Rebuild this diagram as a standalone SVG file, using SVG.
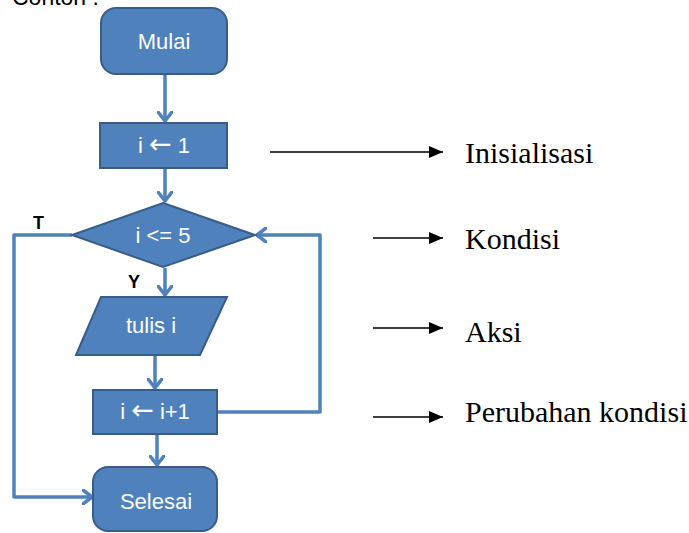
<svg xmlns="http://www.w3.org/2000/svg" width="689" height="533" viewBox="0 0 689 533">
<defs>
<style>
.node{fill:#4F81BD;stroke:#385D8A;stroke-width:2}
.nt{font-family:"Liberation Sans",Arial,sans-serif;font-size:22px;fill:#FFFFFF;text-anchor:middle}
.arr{font-family:"DejaVu Sans",sans-serif;font-size:27px}
.flow{fill:none;stroke:#4F81BD;stroke-width:3.5;stroke-linejoin:round}
.lbl{font-family:"Liberation Sans",Arial,sans-serif;font-size:18px;font-weight:bold;fill:#000}
.ann{fill:none;stroke:#000;stroke-width:1.5}
.at{font-family:"Liberation Serif","Times New Roman",serif;font-size:30px;fill:#000}
</style>
<marker id="open" viewBox="0 0 12 16" refX="10" refY="8" markerWidth="12" markerHeight="16" markerUnits="userSpaceOnUse" orient="auto">
<path d="M1,1 L10,8 L1,15" fill="none" stroke="#4F81BD" stroke-width="3.5" stroke-linecap="round" stroke-linejoin="round"/>
</marker>
<marker id="solid" viewBox="0 0 14 12" refX="14" refY="6" markerWidth="14" markerHeight="12" markerUnits="userSpaceOnUse" orient="auto">
<path d="M0,0 L14,6 L0,12 Z" fill="#000"/>
</marker>
</defs>
<rect width="689" height="533" fill="#FFFFFF"/>
<text x="12" y="5" font-family="Liberation Sans,Arial,sans-serif" font-size="23" fill="#000">Contoh :</text>

<g id="connectors">
<path class="flow" d="M165,75 L165,121" marker-end="url(#open)"/>
<path class="flow" d="M165,169 L165,201" marker-end="url(#open)"/>
<path class="flow" d="M165,268 L165,295" marker-end="url(#open)"/>
<path class="flow" d="M155,356 L155,388" marker-end="url(#open)"/>
<path class="flow" d="M157,435 L157,465" marker-end="url(#open)"/>
<path class="flow" d="M72,235 L14,235 L14,497 L92,497" marker-end="url(#open)"/>
<path class="flow" d="M218,412 L320,412 L320,235 L257,235" marker-end="url(#open)"/>
<text class="lbl" x="33" y="229">T</text>
<text class="lbl" x="128" y="288">Y</text>
</g>

<g id="mulai">
<rect class="node" x="101" y="8" width="126" height="66" rx="15"/>
<text class="nt" x="164" y="49">Mulai</text>
</g>
<g id="init">
<rect class="node" x="100" y="123" width="127" height="45"/>
<text class="nt" x="164" y="153">i <tspan class="arr">←</tspan> 1</text>
</g>
<g id="kondisi">
<polygon class="node" points="163,203 255,235 163,267 72,235"/>
<text class="nt" x="163" y="243">i &lt;= 5</text>
</g>
<g id="tulis">
<polygon class="node" points="101,297 227,297 200,355 76,355"/>
<text class="nt" x="151" y="333">tulis i</text>
</g>
<g id="increment">
<rect class="node" x="93" y="390" width="124" height="44"/>
<text class="nt" x="155" y="419">i <tspan class="arr">←</tspan> i+1</text>
</g>
<g id="selesai">
<rect class="node" x="93" y="467" width="124" height="64" rx="15"/>
<text class="nt" x="156" y="509">Selesai</text>
</g>

<g id="annotations">
<path class="ann" d="M270,152 L443,152" marker-end="url(#solid)"/>
<text class="at" x="465" y="163">Inisialisasi</text>
<path class="ann" d="M373,238 L443,238" marker-end="url(#solid)"/>
<text class="at" x="465" y="249">Kondisi</text>
<path class="ann" d="M373,328 L443,328" marker-end="url(#solid)"/>
<text class="at" x="465" y="342">Aksi</text>
<path class="ann" d="M373,417 L443,417" marker-end="url(#solid)"/>
<text class="at" x="465" y="422">Perubahan kondisi</text>
</g>
</svg>
